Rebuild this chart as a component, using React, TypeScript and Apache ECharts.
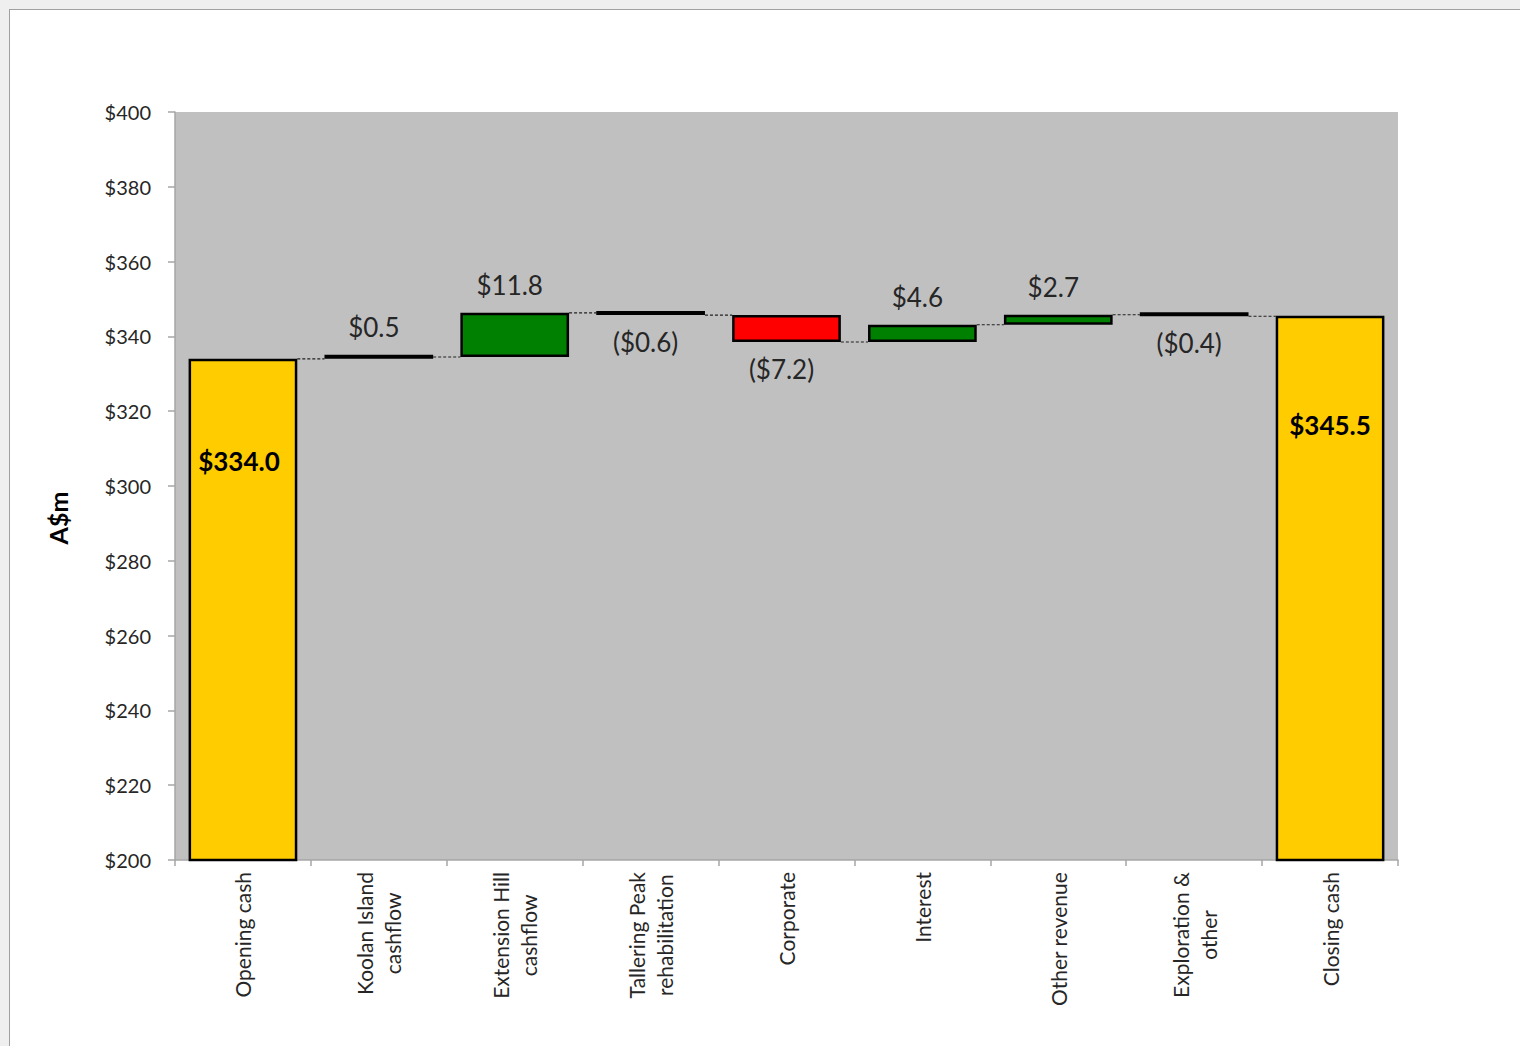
import React, { useEffect, useRef } from "react";
import * as echarts from "echarts";

const categories = [
  "Opening cash",
  "Koolan Island\ncashflow",
  "Extension Hill\ncashflow",
  "Tallering Peak\nrehabilitation",
  "Corporate",
  "Interest",
  "Other revenue",
  "Exploration &\nother",
  "Closing cash",
];
const openingCash = 334.0;
const movements = [0.5, 11.8, -0.6, -7.2, 4.6, 2.7, -0.4];
const closingCash = 345.5;
const yTicks = { min: 200, max: 400, interval: 20 };
const yTitle = "A$m";

const YELLOW = "#FFCC00";
const GREEN = "#008000";
const RED = "#FF0000";
const FONT = "Lato";

export default function App() {
  const ref = useRef<HTMLDivElement>(null);

  useEffect(() => {
    if (!ref.current) return;
    const chart = echarts.init(ref.current, undefined, { renderer: "svg" });

    const signed: number[] = [openingCash, ...movements, closingCash];
    const base: number[] = [0];
    const visible: any[] = [];
    const running: number[] = [openingCash];
    let total = openingCash;
    movements.forEach((d) => {
      const next = total + d;
      base.push(Math.min(total, next));
      total = next;
      running.push(total);
    });
    base.push(0);

    const fmt = (v: number) =>
      v < 0 ? `($${Math.abs(v).toFixed(1)})` : `$${v.toFixed(1)}`;

    signed.forEach((v, i) => {
      const isFirst = i === 0;
      const isLast = i === signed.length - 1;
      const isTotal = isFirst || isLast;
      const color = isTotal ? YELLOW : v >= 0 ? GREEN : RED;
      visible.push({
        value: Math.abs(v),
        itemStyle: { color },
        label: isTotal
          ? {
              show: true,
              position: "insideTop",
              distance: isFirst ? 89 : 96,
              offset: [isFirst ? -4 : 0, 0],
              fontWeight: "bold",
              color: "#000",
            }
          : {
              show: true,
              position: v >= 0 ? "top" : "bottom",
              distance: v >= 0 ? 15 : 14,
              offset: [-5, 0],
              color: "#262626",
            },
      });
    });

    const connectorData = running.map((t, i) => [i, t]);

    chart.setOption({
      animation: false,
      grid: {
        left: 175,
        right: 122,
        top: 112,
        bottom: 186,
        show: true,
        backgroundColor: "#C0C0C0",
        borderWidth: 0,
      },
      graphic: [
        {
          type: "text",
          x: 58,
          y: 518,
          rotation: Math.PI / 2,
          style: {
            text: yTitle,
            fontFamily: FONT,
            fontWeight: "bold",
            fontSize: 25,
            fill: "#000",
            align: "center",
            verticalAlign: "middle",
          },
        },
      ],
      xAxis: {
        type: "category",
        data: categories,
        axisLine: { lineStyle: { color: "#A6A6A6", width: 1.5 } },
        axisTick: { show: true, length: 6, lineStyle: { color: "#A6A6A6", width: 1.5 } },
        axisLabel: {
          rotate: 90,
          margin: 12,
          interval: 0,
          color: "#262626",
          fontFamily: FONT,
          fontSize: 21,
          lineHeight: 28,
          formatter: (val: string) =>
            val
              .split("\n")
              .map((l) => `{c|${l}}`)
              .join("\n"),
          rich: {
            c: {
              align: "center",
              fontFamily: FONT,
              fontSize: 21,
              lineHeight: 28,
              color: "#262626",
            },
          },
        },
      },
      yAxis: {
        type: "value",
        min: yTicks.min,
        max: yTicks.max,
        interval: yTicks.interval,
        splitLine: { show: false },
        axisLine: { show: true, lineStyle: { color: "#A6A6A6", width: 1.5 } },
        axisTick: { show: true, length: 7, lineStyle: { color: "#A6A6A6", width: 1.5 } },
        axisLabel: {
          margin: 24,
          color: "#262626",
          fontFamily: FONT,
          fontSize: 20,
          formatter: (v: number) => `$${v}`,
        },
      },
      series: [
        {
          type: "bar",
          stack: "w",
          barWidth: "80%",
          data: base,
          itemStyle: { color: "transparent", borderWidth: 0 },
          emphasis: { disabled: true },
          silent: true,
        },
        {
          type: "bar",
          stack: "w",
          barWidth: "80%",
          barMinHeight: 4,
          data: visible,
          itemStyle: { borderColor: "#000", borderWidth: 2.5 },
          label: {
            show: true,
            fontFamily: FONT,
            fontSize: 26,
            formatter: (p: any) => fmt(signed[p.dataIndex]),
          },
          z: 3,
        },
        {
          type: "custom",
          data: connectorData,
          encode: { x: 0, y: 1 },
          silent: true,
          z: 2,
          renderItem: (params: any, api: any) => {
            const i = api.value(0);
            const v = api.value(1);
            if (i >= categories.length - 1) return null;
            const p1 = api.coord([i, v]);
            const p2 = api.coord([i + 1, v]);
            const bw = api.size([1, 0])[0] * 0.8;
            return {
              type: "line",
              shape: {
                x1: p1[0] + bw / 2,
                y1: p1[1],
                x2: p2[0] - bw / 2,
                y2: p2[1],
              },
              style: { stroke: "#202020", lineWidth: 1.1, lineDash: [3, 2] },
            };
          },
        },
      ],
    });

    return () => chart.dispose();
  }, []);

  return (
    <div
      style={{
        position: "absolute",
        left: 0,
        top: 0,
        width: 1520,
        height: 1046,
        background: "#EFEFEF",
        overflow: "hidden",
      }}
    >
      <div
        style={{
          position: "absolute",
          left: 9,
          top: 9,
          width: 1520,
          height: 1046,
          background: "#FFFFFF",
          borderLeft: "1.5px solid #A0A0A0",
          borderTop: "1.5px solid #A0A0A0",
        }}
      />
      <div
        ref={ref}
        style={{ position: "absolute", left: 0, top: 0, width: 1520, height: 1046 }}
      />
    </div>
  );
}
